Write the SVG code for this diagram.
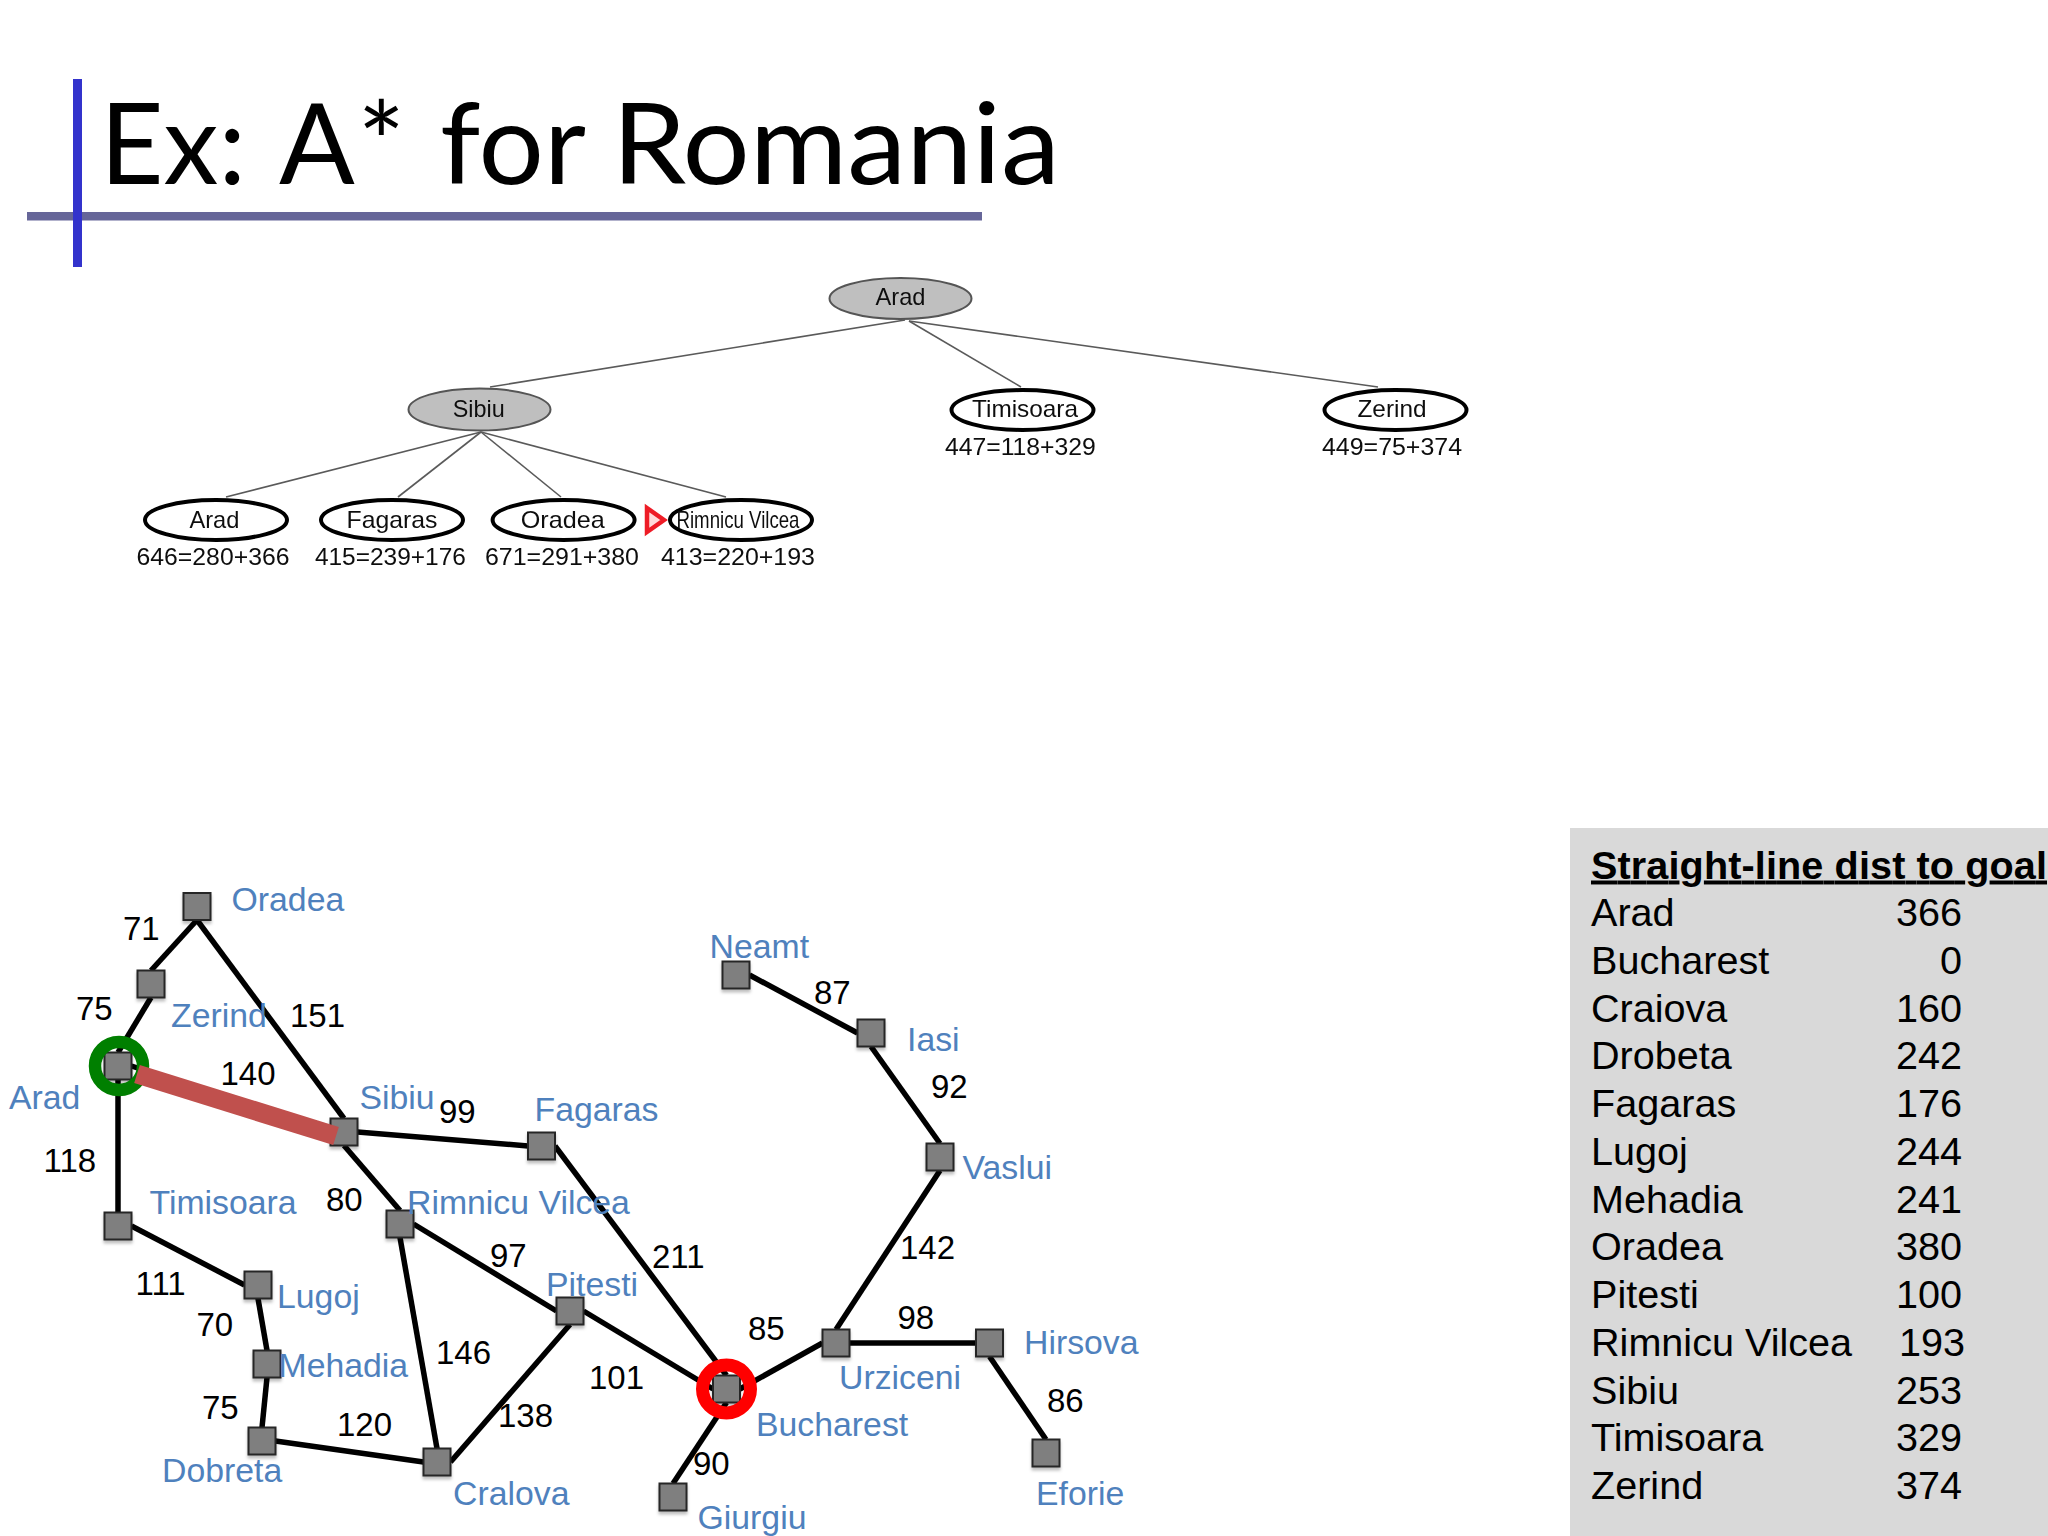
<svg xmlns="http://www.w3.org/2000/svg" width="2048" height="1536" viewBox="0 0 2048 1536">
<defs>
<style>
text{font-family:"Liberation Sans",Arial,sans-serif}
.title{font-family:Lato,"Open Sans",sans-serif;font-size:112px;fill:#000}
.e{stroke:#000;stroke-width:5.5;fill:none}
.t{stroke:#5a5a5a;stroke-width:1.6;fill:none}
.sq{fill:#7f7f7f;stroke:#262626;stroke-width:2;filter:url(#sh)}
.c{font-size:33.8px;fill:#4f81bd}
.n{font-size:33px;fill:#000}
.tn{font-size:24px;fill:#111;text-anchor:middle}
.tv{font-size:23px;fill:#111;text-anchor:middle}
.open{fill:#fff;stroke:#000;stroke-width:4}
.done{fill:#bfbfbf;stroke:#555;stroke-width:2}
.h{font-size:39.6px;fill:#000}
.d{font-size:39.6px;fill:#000;text-anchor:end}
</style>
<filter id="sh" x="-30%" y="-30%" width="160%" height="170%"><feDropShadow dx="0" dy="3" stdDeviation="1.5" flood-color="#000" flood-opacity="0.25"/></filter>
<filter id="soft" x="-5%" y="-5%" width="110%" height="110%"><feGaussianBlur stdDeviation="0.5"/></filter>
</defs>
<rect width="2048" height="1536" fill="#fff"/>
<g id="title">
<rect x="27" y="212" width="955" height="8.5" fill="#666699"/>
<rect x="73" y="79" width="9" height="188" fill="#3333cc"/>
<text class="title" x="100" y="184" textLength="146" lengthAdjust="spacingAndGlyphs">Ex:</text>
<text class="title" x="279" y="184">A</text>
<text class="title" x="357.500" y="184">*</text>
<text class="title" x="440" y="184" textLength="146" lengthAdjust="spacingAndGlyphs">for</text>
<text class="title" x="612" y="184" textLength="448" lengthAdjust="spacingAndGlyphs">Romania</text>
</g>
<g id="search-tree" filter="url(#soft)">
<g id="search-tree-edges">
<line class="t" x1="905" y1="320" x2="490" y2="387"/>
<line class="t" x1="909" y1="321" x2="1021" y2="387"/>
<line class="t" x1="909" y1="321" x2="1378" y2="387"/>
<line class="t" x1="481" y1="432" x2="226" y2="497"/>
<line class="t" x1="481" y1="432" x2="398" y2="497"/>
<line class="t" x1="481" y1="432" x2="561" y2="497"/>
<line class="t" x1="481" y1="432" x2="726" y2="497"/>
</g>
<g id="tree-arad"><ellipse class="done" cx="900.5" cy="298.5" rx="71" ry="20.5"/><text class="tn" x="900.5" y="305" textLength="50" lengthAdjust="spacingAndGlyphs">Arad</text></g>
<g id="tree-sibiu"><ellipse class="done" cx="479.5" cy="409.5" rx="71" ry="21"/><text class="tn" x="478.7" y="417" textLength="52" lengthAdjust="spacingAndGlyphs">Sibiu</text></g>
<g id="tree-timisoara"><ellipse class="open" cx="1022.5" cy="410" rx="71" ry="20"/><text class="tn" x="1025" y="417" textLength="106" lengthAdjust="spacingAndGlyphs">Timisoara</text><text class="tv" x="1020.4" y="455" textLength="151" lengthAdjust="spacingAndGlyphs">447=118+329</text></g>
<g id="tree-zerind"><ellipse class="open" cx="1395.5" cy="410" rx="71" ry="20"/><text class="tn" x="1392" y="417" textLength="69" lengthAdjust="spacingAndGlyphs">Zerind</text><text class="tv" x="1392" y="455" textLength="140" lengthAdjust="spacingAndGlyphs">449=75+374</text></g>
<g id="tree-sibiu-arad"><ellipse class="open" cx="216" cy="520" rx="71" ry="20"/><text class="tn" x="214.4" y="528" textLength="50" lengthAdjust="spacingAndGlyphs">Arad</text><text class="tv" x="213" y="565" textLength="153" lengthAdjust="spacingAndGlyphs">646=280+366</text></g>
<g id="tree-fagaras"><ellipse class="open" cx="392" cy="520" rx="71" ry="20"/><text class="tn" x="392" y="528" textLength="91" lengthAdjust="spacingAndGlyphs">Fagaras</text><text class="tv" x="390.4" y="565" textLength="151" lengthAdjust="spacingAndGlyphs">415=239+176</text></g>
<g id="tree-oradea"><ellipse class="open" cx="563.6" cy="520" rx="71" ry="20"/><text class="tn" x="562.7" y="528" textLength="84" lengthAdjust="spacingAndGlyphs">Oradea</text><text class="tv" x="562" y="565" textLength="154" lengthAdjust="spacingAndGlyphs">671=291+380</text></g>
<g id="tree-rimnicu"><ellipse class="open" cx="741" cy="520" rx="71" ry="20"/><text class="tn" x="738" y="528" textLength="123" lengthAdjust="spacingAndGlyphs">Rimnicu Vilcea</text><text class="tv" x="738" y="565" textLength="154" lengthAdjust="spacingAndGlyphs">413=220+193</text></g>
<polygon id="tree-pointer" points="647,508 664,520 647,532" fill="#ffdada" stroke="#ee1c25" stroke-width="4.5"/>
</g>
<g id="connectors">
<line class="e" x1="197" y1="920" x2="151" y2="970.5"/>
<line class="e" x1="151" y1="997.5" x2="118" y2="1052.5"/>
<line class="e" x1="197" y1="920" x2="344" y2="1118.5"/>
<line class="e" x1="118" y1="1079.5" x2="118" y2="1212.5"/>
<line class="e" x1="131.5" y1="1066" x2="330.5" y2="1132"/>
<line class="e" x1="357.5" y1="1132" x2="528" y2="1146"/>
<line class="e" x1="344" y1="1145.5" x2="400" y2="1210.5"/>
<line class="e" x1="131.5" y1="1226" x2="244.5" y2="1285"/>
<line class="e" x1="258" y1="1298.5" x2="267" y2="1350.5"/>
<line class="e" x1="267" y1="1377.5" x2="262" y2="1427.5"/>
<line class="e" x1="275.5" y1="1441" x2="423.5" y2="1462"/>
<line class="e" x1="400" y1="1237.5" x2="437" y2="1448.5"/>
<line class="e" x1="413.5" y1="1224" x2="556.5" y2="1311"/>
<line class="e" x1="450.5" y1="1462" x2="570" y2="1324.5"/>
<line class="e" x1="583.5" y1="1311" x2="713" y2="1389"/>
<line class="e" x1="555" y1="1146" x2="726.5" y2="1375.5"/>
<line class="e" x1="740" y1="1389" x2="822.5" y2="1343"/>
<line class="e" x1="726.5" y1="1402.5" x2="673" y2="1483.5"/>
<line class="e" x1="836" y1="1329.5" x2="940" y2="1170.5"/>
<line class="e" x1="940" y1="1143.5" x2="871" y2="1046.5"/>
<line class="e" x1="857.5" y1="1033" x2="749.5" y2="975"/>
<line class="e" x1="849.5" y1="1343" x2="976" y2="1343"/>
<line class="e" x1="989.5" y1="1356.5" x2="1046" y2="1439.5"/>
</g>
<g id="edge-labels">
<text class="n" x="123" y="940">71</text><text class="n" x="76" y="1019.500">75</text><text class="n" x="290" y="1027">151</text><text class="n" x="220.500" y="1085">140</text><text class="n" x="439" y="1123">99</text><text class="n" x="43.500" y="1172">118</text><text class="n" x="326" y="1211">80</text><text class="n" x="490" y="1267">97</text><text class="n" x="135.500" y="1295">111</text><text class="n" x="196.500" y="1336">70</text><text class="n" x="436" y="1364">146</text><text class="n" x="202" y="1419">75</text><text class="n" x="337" y="1436">120</text><text class="n" x="498" y="1427">138</text><text class="n" x="814" y="1004">87</text><text class="n" x="931" y="1097.500">92</text><text class="n" x="900" y="1258.600">142</text><text class="n" x="652" y="1268">211</text><text class="n" x="748" y="1340">85</text><text class="n" x="897.500" y="1328.500">98</text><text class="n" x="589" y="1389">101</text><text class="n" x="693" y="1475">90</text><text class="n" x="1047" y="1411.500">86</text>
</g>
<g id="oradea"><rect class="sq" x="183.500" y="893" width="27" height="27"/><text class="c" x="231.500" y="911">Oradea</text></g>
<g id="zerind"><rect class="sq" x="137.500" y="970.500" width="27" height="27"/><text class="c" x="171" y="1027">Zerind</text></g>
<g id="arad"><rect class="sq" x="104.500" y="1052.500" width="27" height="27"/><circle cx="119" cy="1066" r="24" fill="none" stroke="#007f00" stroke-width="12.500"/><text class="c" x="9" y="1109">Arad</text></g>
<g id="sibiu"><rect class="sq" x="330.500" y="1118.500" width="27" height="27"/><text class="c" x="359.500" y="1109">Sibiu</text></g>
<g id="fagaras"><rect class="sq" x="528" y="1132.500" width="27" height="27"/><text class="c" x="534.500" y="1120.500">Fagaras</text></g>
<g id="rimnicu-vilcea"><rect class="sq" x="386.500" y="1210.500" width="27" height="27"/><text class="c" x="407" y="1213.500">Rimnicu Vilcea</text></g>
<g id="timisoara"><rect class="sq" x="104.500" y="1212.500" width="27" height="27"/><text class="c" x="149.500" y="1213.500">Timisoara</text></g>
<g id="lugoj"><rect class="sq" x="244.500" y="1271.500" width="27" height="27"/><text class="c" x="277" y="1308">Lugoj</text></g>
<g id="mehadia"><rect class="sq" x="253.500" y="1350.500" width="27" height="27"/><text class="c" x="278.500" y="1376.500">Mehadia</text></g>
<g id="dobreta"><rect class="sq" x="248.500" y="1427.500" width="27" height="27"/><text class="c" x="162" y="1481.500">Dobreta</text></g>
<g id="cralova"><rect class="sq" x="423.500" y="1448.500" width="27" height="27"/><text class="c" x="453" y="1504.500">Cralova</text></g>
<g id="pitesti"><rect class="sq" x="556.500" y="1297.500" width="27" height="27"/><text class="c" x="546" y="1296">Pitesti</text></g>
<g id="neamt"><rect class="sq" x="722.500" y="961.500" width="27" height="27"/><text class="c" x="709.500" y="958">Neamt</text></g>
<g id="iasi"><rect class="sq" x="857.500" y="1019.500" width="27" height="27"/><text class="c" x="907" y="1051">Iasi</text></g>
<g id="vaslui"><rect class="sq" x="926.500" y="1143.500" width="27" height="27"/><text class="c" x="962.500" y="1179">Vaslui</text></g>
<g id="urziceni"><rect class="sq" x="822.500" y="1329.500" width="27" height="27"/><text class="c" x="839" y="1389">Urziceni</text></g>
<g id="hirsova"><rect class="sq" x="976" y="1329.500" width="27" height="27"/><text class="c" x="1024" y="1354">Hirsova</text></g>
<g id="eforie"><rect class="sq" x="1032.500" y="1439.500" width="27" height="27"/><text class="c" x="1036" y="1504.500">Eforie</text></g>
<g id="bucharest"><rect class="sq" x="713" y="1375.500" width="27" height="27"/><circle cx="726.500" cy="1389" r="24" fill="none" stroke="#ff0000" stroke-width="13"/><text class="c" x="756" y="1435.500">Bucharest</text></g>
<g id="giurgiu"><rect class="sq" x="659.500" y="1483.500" width="27" height="27"/><text class="c" x="697.500" y="1529">Giurgiu</text></g>
<g id="highlight"><line x1="137" y1="1074" x2="336" y2="1136" stroke="#c0504d" stroke-width="19"/></g>
<g id="heuristic-table">
<rect x="1570" y="828" width="478" height="708" fill="#d9d9d9"/>
<text class="h" x="1591" y="878.500" font-weight="bold" text-decoration="underline" textLength="456">Straight-line dist to goal</text>
<text class="h" x="1591" y="925.700">Arad</text><text class="d" x="1962" y="925.700">366</text>
<text class="h" x="1591" y="973.500">Bucharest</text><text class="d" x="1962" y="973.500">0</text>
<text class="h" x="1591" y="1021.800">Craiova</text><text class="d" x="1962" y="1021.800">160</text>
<text class="h" x="1591" y="1069">Drobeta</text><text class="d" x="1962" y="1069">242</text>
<text class="h" x="1591" y="1116.800">Fagaras</text><text class="d" x="1962" y="1116.800">176</text>
<text class="h" x="1591" y="1164.600">Lugoj</text><text class="d" x="1962" y="1164.600">244</text>
<text class="h" x="1591" y="1212.800">Mehadia</text><text class="d" x="1962" y="1212.800">241</text>
<text class="h" x="1591" y="1260.200">Oradea</text><text class="d" x="1962" y="1260.200">380</text>
<text class="h" x="1591" y="1308">Pitesti</text><text class="d" x="1962" y="1308">100</text>
<text class="h" x="1591" y="1355.800">Rimnicu Vilcea</text><text class="d" x="1965" y="1355.800">193</text>
<text class="h" x="1591" y="1403.500">Sibiu</text><text class="d" x="1962" y="1403.500">253</text>
<text class="h" x="1591" y="1451.300">Timisoara</text><text class="d" x="1962" y="1451.300">329</text>
<text class="h" x="1591" y="1499">Zerind</text><text class="d" x="1962" y="1499">374</text>
</g>
</svg>
